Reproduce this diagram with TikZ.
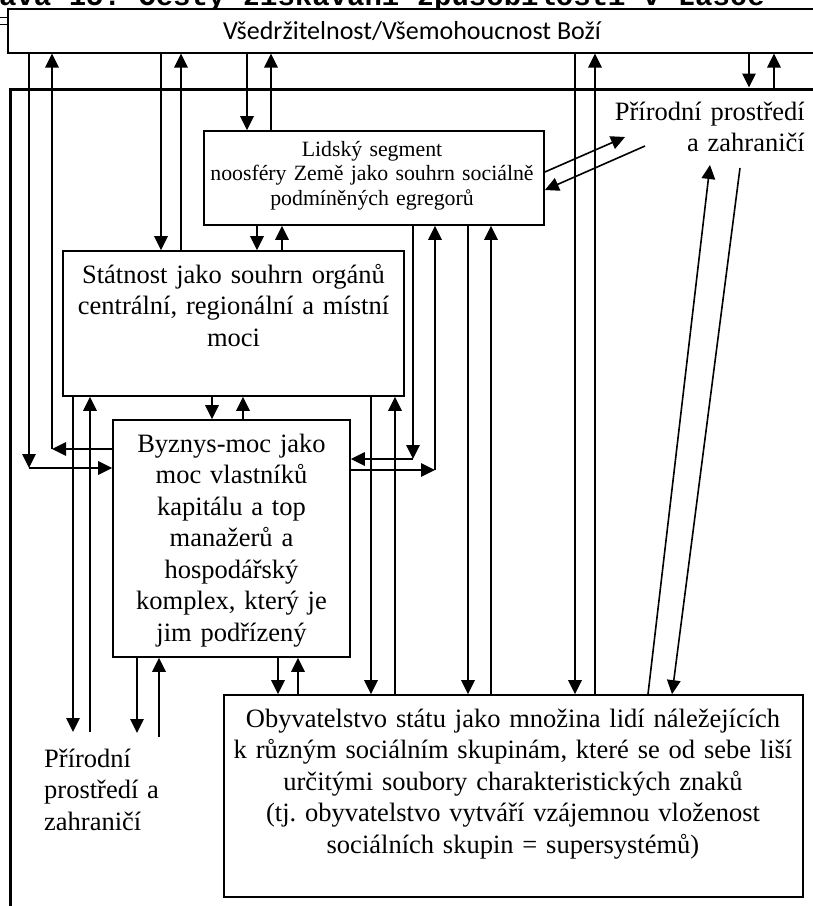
\documentclass[tikz,border=0pt]{standalone}
\usepackage{fontspec}
\setmainfont{Liberation Serif}
\newfontfamily\godfnt{Carlito}
\newfontfamily\ttlfnt{Liberation Mono}
\usetikzlibrary{arrows.meta}
\frenchspacing
\begin{document}
\begin{tikzpicture}[x=1pt,y=-1pt,
  box/.style={draw, line width=1.7pt, fill=white, inner sep=0pt, rectangle},
  frm/.style={draw, line width=3pt, inner sep=0pt, rectangle},
  arr/.style={line width=1.6pt, -{Triangle[length=14pt,width=13.5pt]}},
  big/.style={font=\fontsize{26.5}{31.5}\selectfont, inner sep=0pt},
  small/.style={font=\fontsize{21.8}{24.5}\selectfont, inner sep=0pt, align=center, text width=340pt},
]
\useasboundingbox (0,0) rectangle (813,906);
% title, cut off at the top
\node[anchor=base west, inner sep=0pt, font=\ttlfnt\bfseries\fontsize{29}{29}\selectfont] (title) at (-1,5) {ava 15. Cesty získávání způsobilosti v Lasce};
\draw[line width=1pt] (0,17) -- (9,17) (0,24) -- (9,24);
% outer frame
\node[frm, minimum width=840, minimum height=880] (frame) at (430,529) {};
% boxes
\node[box, minimum width=832, minimum height=43.4] (god) at (424,31) {};
\node[inner sep=0pt, font=\godfnt\fontsize{26}{26}\selectfont] (godT) at (412,31) {Všedržitelnost/Všemohoucnost Boží};
\node[box, minimum width=340, minimum height=94] (lid) at (374,178) {};
\node[box, minimum width=341, minimum height=145] (stat) at (233.5,323.5) {};
\node[box, minimum width=237, minimum height=237] (byz) at (231.5,538.5) {};
\node[box, minimum width=579, minimum height=202] (obyv) at (513.5,796) {};
% texts
\node[small, anchor=base] (lidT) at (372,156) {Lidský segment\\noosféry Země jako souhrn sociálně\\podmíněných egregorů};
\node[big, align=center, text width=340pt, anchor=base] (statT) at (233.5,283) {Státnost jako souhrn orgánů\\centrální, regionální a místní\\moci};
\node[big, align=center, text width=236pt, anchor=base] (byzT) at (231.5,452) {Byznys-moc jako\\moc vlastníků\\kapitálu a top\\manažerů a\\hospodářský\\komplex, který je\\jim podřízený};
\node[big, align=center, text width=578pt, anchor=base] (obyvT) at (513,727) {Obyvatelstvo státu jako množina lidí náležejících\\k různým sociálním skupinám, které se od sebe liší\\určitými soubory charakteristických znaků\\(tj. obyvatelstvo vytváří vzájemnou vloženost\\sociálních skupin = supersystémů)};
\node[big, align=right, text width=220pt, anchor=base east] (prT) at (805,120) {Přírodní prostředí\\a zahraničí};
\node[big, align=left, text width=150pt, anchor=base west] (prB) at (44,767) {Přírodní\\prostředí a\\zahraničí};
% coordinates
\coordinate (cL1) at (29,468);
\coordinate (cL2) at (52,449);
\coordinate (cR1) at (413,459);
\coordinate (cR2) at (435,470);
\coordinate (pL1) at (73,732);
\coordinate (pL2) at (90,732);
\coordinate (pL3) at (137,733);
\coordinate (pL4) at (159,737);
\coordinate (pR1) at (625,137);
\coordinate (pR2) at (645,146);
\coordinate (pR3) at (710,165);
\coordinate (pR4) at (740,168);
% God <-> Byznys (left)
\draw[arr] (29,0 |- god.south) -- (cL1);
\draw[arr] (cL1) -- (cL1 -| byz.west);
\draw[arr] (cL2 -| byz.west) -- (cL2);
\draw[arr] (cL2) -- (52,0 |- god.south);
% God <-> Statnost
\draw[arr] (161,0 |- god.south) -- (161,0 |- stat.north);
\draw[arr] (181,0 |- stat.north) -- (181,0 |- god.south);
% God <-> Lidsky
\draw[arr] (247,0 |- god.south) -- (247,0 |- lid.north);
\draw[arr] (271,0 |- lid.north) -- (271,0 |- god.south);
% God <-> Obyvatelstvo
\draw[arr] (575,0 |- god.south) -- (575,0 |- obyv.north);
\draw[arr] (595,0 |- obyv.north) -- (595,0 |- god.south);
% God <-> frame
\draw[arr] (749,0 |- god.south) -- (749,0 |- frame.north);
\draw[arr] (774,0 |- frame.north) -- (774,0 |- god.south);
% Lidsky <-> Statnost
\draw[arr] (257,0 |- lid.south) -- (257,0 |- stat.north);
\draw[arr] (282,0 |- stat.north) -- (282,0 |- lid.south);
% Lidsky <-> Byznys (right)
\draw[arr] (413,0 |- lid.south) -- (cR1);
\draw[arr] (cR1) -- (cR1 -| byz.east);
\draw[arr] (cR2 -| byz.east) -- (cR2);
\draw[arr] (cR2) -- (435,0 |- lid.south);
% Lidsky <-> Obyvatelstvo
\draw[arr] (468,0 |- lid.south) -- (468,0 |- obyv.north);
\draw[arr] (491,0 |- obyv.north) -- (491,0 |- lid.south);
% Statnost <-> Obyvatelstvo
\draw[arr] (371,0 |- stat.south) -- (371,0 |- obyv.north);
\draw[arr] (395,0 |- obyv.north) -- (395,0 |- stat.south);
% Statnost <-> Byznys
\draw[arr] (212,0 |- stat.south) -- (212,0 |- byz.north);
\draw[arr] (243,0 |- byz.north) -- (243,0 |- stat.south);
% Statnost <-> nature (bottom left)
\draw[arr] (73,0 |- stat.south) -- (pL1);
\draw[arr] (pL2) -- (90,0 |- stat.south);
% Byznys <-> nature
\draw[arr] (137,0 |- byz.south) -- (pL3);
\draw[arr] (pL4) -- (159,0 |- byz.south);
% Byznys <-> Obyvatelstvo
\draw[arr] (278,0 |- byz.south) -- (278,0 |- obyv.north);
\draw[arr] (298,0 |- obyv.north) -- (298,0 |- byz.south);
% Lidsky <-> nature (top right)
\draw[arr] (lid.east |- 0,172) -- (pR1);
\draw[arr] (pR2) -- (lid.east |- 0,190);
% Obyvatelstvo <-> nature (right)
\draw[arr] (648,0 |- obyv.north) -- (pR3);
\draw[arr] (pR4) -- (672,0 |- obyv.north);
\end{tikzpicture}
\end{document}
